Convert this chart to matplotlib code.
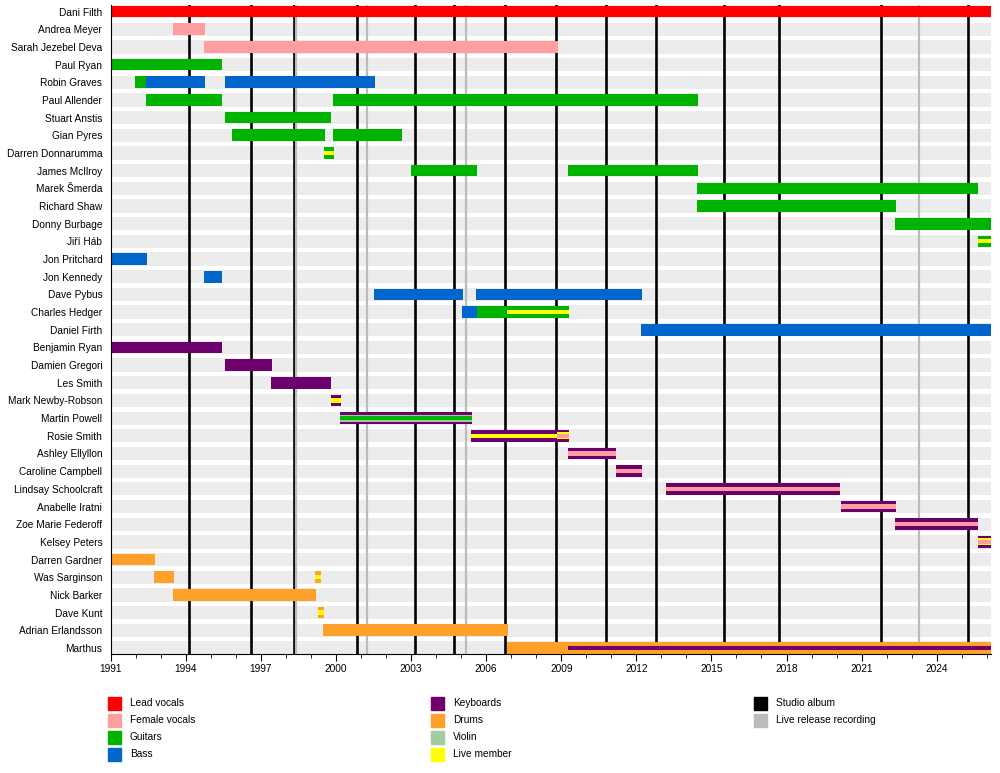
import matplotlib
matplotlib.use('Agg')
import matplotlib.pyplot as plt
from matplotlib.patches import Rectangle

plt.rcParams['font.family'] = ['Liberation Sans', 'DejaVu Sans']

# band members, top to bottom
members = ['Dani Filth', 'Andrea Meyer', 'Sarah Jezebel Deva', 'Paul Ryan', 'Robin Graves',
           'Paul Allender', 'Stuart Anstis', 'Gian Pyres', 'Darren Donnarumma', 'James McIlroy',
           'Marek Šmerda', 'Richard Shaw', 'Donny Burbage', 'Jiří Háb', 'Jon Pritchard',
           'Jon Kennedy', 'Dave Pybus', 'Charles Hedger', 'Daniel Firth', 'Benjamin Ryan',
           'Damien Gregori', 'Les Smith', 'Mark Newby-Robson', 'Martin Powell', 'Rosie Smith',
           'Ashley Ellyllon', 'Caroline Campbell', 'Lindsay Schoolcraft', 'Anabelle Iratni',
           'Zoe Marie Federoff', 'Kelsey Peters', 'Darren Gardner', 'Was Sarginson', 'Nick Barker',
           'Dave Kunt', 'Adrian Erlandsson', 'Marthus']

END = 2026.17

# (member, start, end, roles from outer bar to inner stripe)
spans = [
    ('Dani Filth', 1991.0, END, ('Lead vocals',)),
    ('Andrea Meyer', 1993.48, 1994.76, ('Female vocals',)),
    ('Sarah Jezebel Deva', 1994.73, 2008.86, ('Female vocals',)),
    ('Paul Ryan', 1991.0, 1995.43, ('Guitars',)),
    ('Robin Graves', 1991.97, 1992.41, ('Guitars',)),
    ('Robin Graves', 1992.41, 1994.76, ('Bass',)),
    ('Robin Graves', 1995.57, 2001.55, ('Bass',)),
    ('Paul Allender', 1992.41, 1995.43, ('Guitars',)),
    ('Paul Allender', 1999.88, 2014.45, ('Guitars',)),
    ('Stuart Anstis', 1995.57, 1999.8, ('Guitars',)),
    ('Gian Pyres', 1995.85, 1999.56, ('Guitars',)),
    ('Gian Pyres', 1999.88, 2002.64, ('Guitars',)),
    ('Darren Donnarumma', 1999.52, 1999.92, ('Guitars', 'Live member')),
    ('James McIlroy', 2003.0, 2005.64, ('Guitars',)),
    ('James McIlroy', 2009.28, 2014.45, ('Guitars',)),
    ('Marek Šmerda', 2014.42, 2025.64, ('Guitars',)),
    ('Richard Shaw', 2014.42, 2022.37, ('Guitars',)),
    ('Donny Burbage', 2022.33, END, ('Guitars',)),
    ('Jiří Háb', 2025.64, END, ('Guitars', 'Live member')),
    ('Jon Pritchard', 1991.0, 1992.45, ('Bass',)),
    ('Jon Kennedy', 1994.73, 1995.43, ('Bass',)),
    ('Dave Pybus', 2001.52, 2005.07, ('Bass',)),
    ('Dave Pybus', 2005.6, 2012.23, ('Bass',)),
    ('Charles Hedger', 2005.04, 2005.64, ('Bass',)),
    ('Charles Hedger', 2005.64, 2006.82, ('Guitars',)),
    ('Charles Hedger', 2006.82, 2009.31, ('Guitars', 'Live member')),
    ('Daniel Firth', 2012.19, END, ('Bass',)),
    ('Benjamin Ryan', 1991.0, 1995.43, ('Keyboards',)),
    ('Damien Gregori', 1995.57, 1997.44, ('Keyboards',)),
    ('Les Smith', 1997.4, 1999.8, ('Keyboards',)),
    ('Mark Newby-Robson', 1999.8, 2000.2, ('Keyboards', 'Live member')),
    ('Martin Powell', 2000.16, 2005.43, ('Keyboards', 'Violin', 'Guitars')),
    ('Rosie Smith', 2005.4, 2008.82, ('Keyboards', 'Live member')),
    ('Rosie Smith', 2008.82, 2009.31, ('Keyboards', 'Live member', 'Female vocals')),
    ('Ashley Ellyllon', 2009.27, 2011.19, ('Keyboards', 'Female vocals')),
    ('Caroline Campbell', 2011.19, 2012.23, ('Keyboards', 'Female vocals')),
    ('Lindsay Schoolcraft', 2013.19, 2020.14, ('Keyboards', 'Female vocals')),
    ('Anabelle Iratni', 2020.18, 2022.37, ('Keyboards', 'Female vocals')),
    ('Zoe Marie Federoff', 2022.33, 2025.65, ('Keyboards', 'Female vocals')),
    ('Kelsey Peters', 2025.65, END, ('Keyboards', 'Live member', 'Female vocals')),
    ('Darren Gardner', 1991.0, 1992.77, ('Drums',)),
    ('Was Sarginson', 1992.73, 1993.53, ('Drums',)),
    ('Was Sarginson', 1999.16, 1999.4, ('Drums', 'Live member')),
    ('Nick Barker', 1993.49, 1999.2, ('Drums',)),
    ('Dave Kunt', 1999.28, 1999.53, ('Drums', 'Live member')),
    ('Adrian Erlandsson', 1999.48, 2006.86, ('Drums',)),
    ('Marthus', 2006.85, END, ('Drums',)),
    ('Marthus', 2009.28, END, ('Drums', 'Keyboards')),
]

studio_albums = [1994.12, 1996.62, 1998.31, 2000.83, 2003.17, 2004.73, 2006.75,
                 2008.8, 2010.8, 2012.8, 2015.52, 2017.71, 2021.79, 2025.24]
live_releases = [1998.39, 2001.24, 2005.18, 2023.3]

colors = {
    'Lead vocals': '#ff0000',
    'Female vocals': '#ff9e9e',
    'Guitars': '#00b300',
    'Bass': '#0066cc',
    'Keyboards': '#6e006e',
    'Drums': '#ffa02a',
    'Violin': '#a0cca0',
    'Live member': '#ffff00',
    'Studio album': '#000000',
    'Live release recording': '#bbbbbb',
}

legend_cols = [
    ['Lead vocals', 'Female vocals', 'Guitars', 'Bass'],
    ['Keyboards', 'Drums', 'Violin', 'Live member'],
    ['Studio album', 'Live release recording'],
]

fig = plt.figure(figsize=(10, 7.73), dpi=100)
ax = fig.add_axes([0.1107, 0.1540, 0.8803, 0.8395])

n = len(members)
rows = {name: i for i, name in enumerate(members)}

# grey background stripes
for i in range(n):
    ax.barh(i, END - 1991.0, left=1991.0, height=0.75, color='#ececec', zorder=0)

for x in studio_albums:
    ax.axvline(x, color=colors['Studio album'], lw=1.9, zorder=1)
for x in live_releases:
    ax.axvline(x, color=colors['Live release recording'], lw=1.6, zorder=1)

heights = [0.66, 0.4, 0.2]
for name, start, end, roles in spans:
    y = rows[name]
    hs = heights if len(roles) == 3 else [0.66, 0.24]
    for k, role in enumerate(roles):
        ax.barh(y, end - start, left=start, height=hs[k], color=colors[role],
                zorder=2 + k, linewidth=0)

ax.set_xlim(1991, END)
ax.set_ylim(n - 1 + 0.34, -0.37)
ax.set_yticks(range(n))
ax.set_yticklabels(members, fontsize=7.3)
ax.tick_params(axis='y', length=0, pad=6)
ax.set_xticks(range(1991, 2026, 3))
ax.set_xticks(range(1991, 2027), minor=True)
ax.tick_params(axis='x', which='major', length=5, labelsize=7.3, pad=2)
ax.tick_params(axis='x', which='minor', length=3)
for s in ['top', 'right']:
    ax.spines[s].set_visible(False)

# legend
col_x = [108, 431, 754]
for c, items in enumerate(legend_cols):
    for r, label in enumerate(items):
        yc = 703 + r * 17
        fig.add_artist(Rectangle(((col_x[c]) / 1000, 1 - (yc + 6.5) / 773), 13 / 1000, 13 / 773,
                                 transform=fig.transFigure, color=colors[label]))
        fig.text((col_x[c] + 22) / 1000, 1 - yc / 773, label, fontsize=7.3, va='center', ha='left')

fig.savefig('out.png', dpi=100)
